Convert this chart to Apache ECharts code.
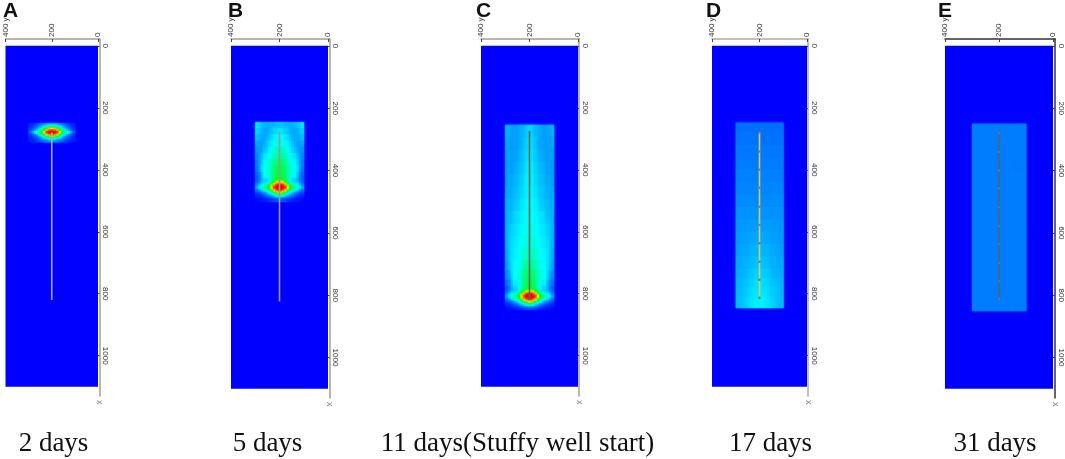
<!DOCTYPE html>
<html>
<head>
<meta charset="utf-8">
<style>html,body{margin:0;padding:0;background:#fff}#c{width:1065px;height:459px}</style>
<script src="https://cdn.jsdelivr.net/npm/echarts@6/dist/echarts.min.js"></script>
</head>
<body>
<div id="c"></div>
<script>
// Depth bands [from, to] and half-width field values (|x-200| = 5,15,...,95), scaled 0..1
var depthsA = [[250,255],[255,260],[260,265],[265,270],[270,275],[275,280],[280,285],[285,290],[290,295],[295,300],[300,305],[305,310]];
var fieldA = [
 [.20,.19,.17,.15,.13,.11,.09,.07,.05,.04],
 [.32,.30,.26,.21,.17,.14,.11,.08,.06,.04],
 [.50,.47,.40,.31,.24,.18,.13,.10,.07,.05],
 [.70,.66,.56,.44,.33,.24,.17,.12,.08,.06],
 [.92,.86,.74,.58,.44,.33,.24,.17,.11,.07],
 [1,1,.95,.76,.60,.47,.37,.29,.20,.11],
 [1,1,.93,.74,.58,.45,.35,.27,.18,.10],
 [.90,.84,.70,.55,.41,.30,.22,.15,.10,.07],
 [.66,.62,.52,.40,.30,.22,.15,.11,.08,.05],
 [.46,.43,.36,.28,.21,.16,.12,.09,.06,.04],
 [.29,.27,.23,.19,.15,.12,.09,.07,.05,.04],
 [.18,.17,.15,.13,.11,.09,.07,.05,.04,.03]
];
var depthsB = [[245,265],[265,285],[285,305],[305,325],[325,345],[345,365],[365,385],[385,405],[405,425],[425,430],[430,435],[435,440],[440,445],[445,450],[450,455],[455,460],[460,465],[465,470],[470,475],[475,480],[480,485],[485,490],[490,500]];
var fieldB = [
 [.22,.22,.21,.21,.20,.20,.21,.22,.24,.26],
 [.26,.25,.24,.22,.20,.19,.19,.20,.22,.24],
 [.28,.28,.27,.25,.22,.20,.19,.19,.20,.22],
 [.31,.31,.30,.27,.25,.22,.20,.18,.18,.19],
 [.35,.35,.33,.30,.27,.24,.22,.19,.17,.17],
 [.40,.39,.37,.33,.30,.27,.26,.22,.18,.15],
 [.46,.45,.42,.37,.33,.30,.28,.24,.18,.14],
 [.50,.49,.45,.39,.34,.31,.30,.26,.18,.13],
 [.51,.50,.46,.40,.33,.31,.29,.23,.15,.11],
 [.53,.51,.46,.38,.28,.25,.25,.20,.13,.10],
 [.62,.58,.50,.39,.28,.23,.23,.20,.14,.10],
 [.74,.69,.57,.44,.31,.25,.24,.22,.16,.11],
 [.88,.82,.68,.53,.39,.29,.26,.25,.19,.13],
 [1,.96,.82,.65,.50,.38,.31,.30,.23,.15],
 [1,1,.94,.74,.58,.47,.39,.34,.26,.18],
 [1,1,.94,.74,.58,.47,.39,.34,.26,.18],
 [1,.94,.79,.62,.48,.37,.31,.27,.20,.14],
 [.86,.78,.65,.50,.38,.29,.24,.20,.15,.11],
 [.68,.61,.49,.38,.29,.22,.17,.14,.10,.08],
 [.50,.44,.35,.28,.21,.16,.13,.10,.07,.05],
 [.33,.29,.24,.19,.15,.12,.09,.07,.05,.04],
 [.21,.19,.16,.13,.10,.08,.06,.05,.04,.03],
 [.10,.09,.08,.06,.05,.04,.03,.02,.02,.01]
];
var depthsC = [[255,295],[295,335],[335,375],[375,415],[415,455],[455,495],[495,535],[535,575],[575,615],[615,655],[655,695],[695,725],[725,755],[755,775],[775,785],[785,790],[790,795],[795,800],[800,805],[805,810],[810,815],[815,820],[820,825],[825,830],[830,835],[835,840],[840,845],[845,850]];
var fieldC = [
 [.24,.23,.21,.20,.19,.18,.18,.18,.19,.20],
 [.25,.24,.22,.20,.19,.18,.18,.18,.18,.19],
 [.26,.25,.23,.21,.20,.19,.18,.18,.18,.18],
 [.27,.26,.24,.22,.21,.20,.19,.18,.18,.18],
 [.27,.27,.25,.23,.22,.21,.20,.19,.19,.18],
 [.28,.27,.26,.24,.23,.22,.21,.20,.19,.19],
 [.29,.28,.27,.26,.24,.23,.22,.21,.20,.20],
 [.30,.29,.28,.27,.26,.25,.24,.22,.21,.20],
 [.31,.30,.29,.28,.27,.26,.25,.24,.22,.20],
 [.33,.32,.31,.29,.28,.27,.26,.25,.23,.20],
 [.37,.36,.34,.32,.29,.28,.27,.26,.23,.19],
 [.42,.41,.38,.34,.31,.29,.28,.26,.22,.18],
 [.47,.46,.42,.37,.32,.30,.29,.25,.19,.16],
 [.50,.48,.44,.37,.31,.27,.28,.22,.16,.13],
 [.53,.50,.45,.37,.28,.24,.25,.21,.14,.10],
 [.62,.58,.50,.39,.28,.23,.23,.20,.14,.10],
 [.74,.69,.57,.44,.31,.25,.24,.22,.16,.11],
 [.88,.82,.68,.53,.39,.29,.26,.25,.19,.13],
 [1,.96,.82,.65,.50,.38,.31,.30,.23,.15],
 [1,1,.94,.74,.58,.47,.39,.34,.26,.18],
 [1,1,.94,.74,.58,.47,.39,.34,.26,.18],
 [1,.94,.79,.62,.48,.37,.31,.27,.20,.14],
 [.86,.78,.65,.50,.38,.29,.24,.20,.15,.11],
 [.68,.61,.49,.38,.29,.22,.17,.14,.10,.08],
 [.50,.44,.35,.28,.21,.16,.13,.10,.07,.05],
 [.33,.29,.24,.19,.15,.12,.09,.07,.05,.04],
 [.21,.19,.16,.13,.10,.08,.06,.05,.04,.03],
 [.10,.09,.08,.06,.05,.04,.03,.02,.02,.01]
];
var depthsD = [[248,280],[280,320],[320,360],[360,400],[400,440],[440,480],[480,520],[520,560],[560,600],[600,640],[640,680],[680,720],[720,750],[750,780],[780,810],[810,845]];
var fieldD = [
 [.125,.125,.125,.125,.125,.125,.125,.125,.125,.125],
 [.13,.13,.13,.13,.13,.13,.13,.13,.13,.13],
 [.135,.135,.135,.135,.135,.135,.135,.135,.135,.135],
 [.14,.14,.14,.14,.14,.14,.14,.14,.14,.14],
 [.145,.145,.145,.145,.145,.145,.145,.145,.145,.145],
 [.15,.15,.15,.15,.15,.15,.15,.15,.15,.15],
 [.155,.155,.155,.155,.155,.155,.155,.155,.155,.155],
 [.165,.165,.165,.165,.165,.165,.165,.165,.165,.165],
 [.175,.175,.175,.175,.175,.175,.17,.17,.17,.17],
 [.19,.19,.19,.185,.185,.18,.18,.18,.175,.175],
 [.205,.205,.20,.20,.195,.19,.19,.185,.185,.18],
 [.22,.22,.215,.21,.205,.20,.20,.195,.19,.19],
 [.235,.235,.23,.225,.22,.21,.205,.20,.20,.195],
 [.25,.25,.245,.24,.23,.22,.215,.21,.205,.20],
 [.26,.26,.255,.25,.24,.23,.225,.215,.21,.205],
 [.27,.27,.265,.26,.25,.24,.23,.22,.215,.21]
];
var depthsE = [[250,400],[400,600],[600,850]];
var fieldE = [
 [.14,.14,.14,.14,.14,.14,.14,.14,.14,.14],
 [.14,.14,.14,.14,.14,.14,.14,.14,.14,.14],
 [.14,.14,.14,.14,.14,.14,.14,.14,.14,.14]
];
var halfOffsets = [0,10,20,30,40,50,60,70,80,90,100];
var wellA = [[200,280],[200,820]];
var wellB = [[200,275],[200,820]];
var wellC = [[200,275],[200,820]];
var wellD = [[200,280],[200,341],[200,400],[200,458],[200,519],[200,578],[200,637],[200,697],[200,755],[200,813]];
var wellE = [[200,280],[200,341],[200,400],[200,458],[200,519],[200,578],[200,637],[200,697],[200,755],[200,813]];
var depthTicks = [0,200,400,600,800,1000];
var crossTicks = [0,200,400];
var panelLetters = ['A','B','C','D','E'];
var captions = ['2 days','5 days','11 days(Stuffy well start)','17 days','31 days'];

var fields = [fieldA,fieldB,fieldC,fieldD,fieldE];
var depths = [depthsA,depthsB,depthsC,depthsD,depthsE];
var wells = [wellA,wellB,wellC,wellD,wellE];
var layout = [
 {l:5.5, r:99.5, t:39, b:396, dx:92.5, letter:3, cap:53.5, axis:'#a39d92', well:'#a8a8a0', sym:0},
 {l:231, r:329.5, t:39, b:398, dx:97, letter:228, cap:267.5, axis:'#a39d92', well:'#9a9a92', sym:0},
 {l:481, r:579, t:39, b:396, dx:97, letter:476, cap:517.5, axis:'#a39d92', well:'#5a6a60', sym:0},
 {l:712, r:808, t:39, b:396, dx:95, letter:706, cap:770.5, axis:'#b0aaa0', well:'#dcc850', sym:2.5},
 {l:945, r:1056, t:39, b:398, dx:109, letter:938, cap:995, axis:'#333333', well:'#606060', sym:2}
];

function cells(field, band){
  var out = [[0,0,400,1100,0]];
  field.forEach(function(row,i){
    row.forEach(function(v,j){
      out.push([200-halfOffsets[j+1],band[i][0],200-halfOffsets[j],band[i][1],v]);
      out.push([200+halfOffsets[j],band[i][0],200+halfOffsets[j+1],band[i][1],v]);
    });
  });
  return out;
}
function renderCell(params, api){
  var a = api.coord([api.value(0),api.value(1)]);
  var b = api.coord([api.value(2),api.value(3)]);
  var x0 = Math.min(a[0],b[0]), x1 = Math.max(a[0],b[0]);
  var big = api.value(2)-api.value(0) > 100;
  var col = api.visual('color');
  return {type:'rect',shape:{x:x0,y:a[1],width:x1-x0+(big?0:.4),height:b[1]-a[1]+(big?0:.4)},
    style:{fill:col,shadowBlur:big?0:2,shadowColor:col}};
}
var grids=[],xAxes=[],yAxes=[],series=[],graphic=[];
layout.forEach(function(p,i){
  grids.push({left:p.l,width:p.r-p.l,top:p.t,height:p.b-p.t,containLabel:false});
  var unit = 400/p.dx;
  xAxes.push({gridIndex:i,type:'value',position:'top',inverse:true,min:-(p.r-p.l-p.dx)*unit,max:400,
    axisLine:{show:true,onZero:false,lineStyle:{color:p.axis,width:1.5}},
    axisTick:{show:true,inside:true,length:3,customValues:crossTicks,lineStyle:{color:'#444'}},
    splitLine:{show:false},
    axisLabel:{customValues:crossTicks,rotate:-90,fontSize:8,color:'#333',margin:2,fontFamily:'Liberation Sans',
      formatter:function(v){return v===400?'400 y':String(v);}}});
  yAxes.push({gridIndex:i,type:'value',position:'right',inverse:true,min:-22,max:1130,
    name:'x',nameLocation:'end',nameGap:4,nameRotate:-90,
    nameTextStyle:{fontSize:9,color:'#888',fontFamily:'Liberation Sans',padding:[0,0,8,0]},
    axisLine:{show:true,onZero:false,lineStyle:{color:p.axis,width:1.5}},
    axisTick:{show:true,inside:true,length:3,customValues:depthTicks,lineStyle:{color:'#444'}},
    splitLine:{show:false},
    axisLabel:{customValues:depthTicks,rotate:-90,fontSize:8,color:'#333',margin:2,fontFamily:'Liberation Sans',
      formatter:function(v){return String(v);}}});
  series.push({type:'custom',xAxisIndex:i,yAxisIndex:i,renderItem:renderCell,clip:false,silent:true,
    encode:{x:[0,2],y:[1,3]},data:cells(fields[i],depths[i])});
  graphic.push({type:'text',left:p.letter,top:1,silent:true,style:{text:panelLetters[i],font:'bold 21px "Liberation Sans"',fill:'#111'}});
  graphic.push({type:'text',x:p.cap,y:444,silent:true,style:{text:captions[i],font:'27px "Liberation Serif"',fill:'#111',align:'center',verticalAlign:'middle'}});
});
layout.forEach(function(p,i){
  series.push({type:'line',xAxisIndex:i,yAxisIndex:i,data:wells[i],silent:true,animation:false,
    showSymbol:p.sym>0,symbol:'circle',symbolSize:p.sym||1,
    itemStyle:{color:'#777'},lineStyle:{color:p.well,width:1.6},z:5});
});
var chart = echarts.init(document.getElementById('c'),null,{renderer:'canvas'});
chart.setOption({
  animation:false,
  grid:grids,xAxis:xAxes,yAxis:yAxes,series:series,graphic:graphic,
  visualMap:{show:false,type:'continuous',seriesIndex:[0,1,2,3,4],dimension:4,min:0,max:1,
    inRange:{color:['#0000ff','#0080ff','#00ffff','#00ff80','#00ff00','#ffff00','#ff8000','#ff0000']}}
});
</script>
</body>
</html>
